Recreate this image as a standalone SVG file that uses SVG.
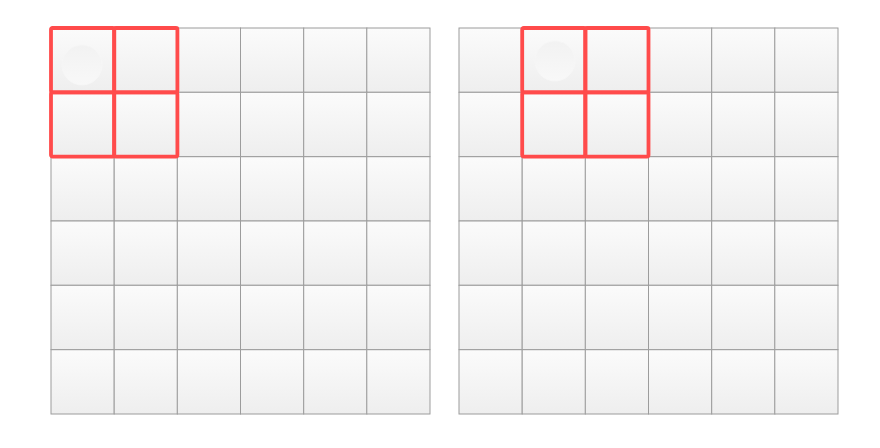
<svg xmlns="http://www.w3.org/2000/svg" xmlns:xlink="http://www.w3.org/1999/xlink" width="880" height="448" viewBox="0 0 880 448">
<defs>
<linearGradient id="cg" x1="0" y1="0" x2="0" y2="1">
<stop offset="0" stop-color="#fbfbfb"/>
<stop offset="1" stop-color="#eeeeee"/>
</linearGradient>
<linearGradient id="dg" x1="0" y1="0" x2="0" y2="1">
<stop offset="0" stop-color="#f2f2f2"/>
<stop offset="1" stop-color="#f8f8f8"/>
</linearGradient>
<rect id="cell" width="63.2" height="64.3" fill="url(#cg)" stroke="#9c9c9c" stroke-width="1"/>
<rect id="hl" width="63.2" height="64.3" rx="1.5" fill="none" stroke="#ff4b4b" stroke-width="3.8"/>
</defs>
<style>
.disc{fill:url(#dg);stroke:#f6f6f6;stroke-width:0.8}
</style>
<rect width="880" height="448" fill="#ffffff"/>
<g id="gridLeft">
<use href="#cell" x="51" y="28"/><use href="#cell" x="114.2" y="28"/><use href="#cell" x="177.3" y="28"/><use href="#cell" x="240.5" y="28"/><use href="#cell" x="303.7" y="28"/><use href="#cell" x="366.8" y="28"/>
<use href="#cell" x="51" y="92.3"/><use href="#cell" x="114.2" y="92.3"/><use href="#cell" x="177.3" y="92.3"/><use href="#cell" x="240.5" y="92.3"/><use href="#cell" x="303.7" y="92.3"/><use href="#cell" x="366.8" y="92.3"/>
<use href="#cell" x="51" y="156.7"/><use href="#cell" x="114.2" y="156.7"/><use href="#cell" x="177.3" y="156.7"/><use href="#cell" x="240.5" y="156.7"/><use href="#cell" x="303.7" y="156.7"/><use href="#cell" x="366.8" y="156.7"/>
<use href="#cell" x="51" y="221"/><use href="#cell" x="114.2" y="221"/><use href="#cell" x="177.3" y="221"/><use href="#cell" x="240.5" y="221"/><use href="#cell" x="303.7" y="221"/><use href="#cell" x="366.8" y="221"/>
<use href="#cell" x="51" y="285.3"/><use href="#cell" x="114.2" y="285.3"/><use href="#cell" x="177.3" y="285.3"/><use href="#cell" x="240.5" y="285.3"/><use href="#cell" x="303.7" y="285.3"/><use href="#cell" x="366.8" y="285.3"/>
<use href="#cell" x="51" y="349.7"/><use href="#cell" x="114.2" y="349.7"/><use href="#cell" x="177.3" y="349.7"/><use href="#cell" x="240.5" y="349.7"/><use href="#cell" x="303.7" y="349.7"/><use href="#cell" x="366.8" y="349.7"/>
<circle class="disc" cx="82" cy="65" r="20"/>
</g>
<g id="gridRight">
<use href="#cell" x="459" y="28"/><use href="#cell" x="522.2" y="28"/><use href="#cell" x="585.3" y="28"/><use href="#cell" x="648.5" y="28"/><use href="#cell" x="711.7" y="28"/><use href="#cell" x="774.8" y="28"/>
<use href="#cell" x="459" y="92.3"/><use href="#cell" x="522.2" y="92.3"/><use href="#cell" x="585.3" y="92.3"/><use href="#cell" x="648.5" y="92.3"/><use href="#cell" x="711.7" y="92.3"/><use href="#cell" x="774.8" y="92.3"/>
<use href="#cell" x="459" y="156.7"/><use href="#cell" x="522.2" y="156.7"/><use href="#cell" x="585.3" y="156.7"/><use href="#cell" x="648.5" y="156.7"/><use href="#cell" x="711.7" y="156.7"/><use href="#cell" x="774.8" y="156.7"/>
<use href="#cell" x="459" y="221"/><use href="#cell" x="522.2" y="221"/><use href="#cell" x="585.3" y="221"/><use href="#cell" x="648.5" y="221"/><use href="#cell" x="711.7" y="221"/><use href="#cell" x="774.8" y="221"/>
<use href="#cell" x="459" y="285.3"/><use href="#cell" x="522.2" y="285.3"/><use href="#cell" x="585.3" y="285.3"/><use href="#cell" x="648.5" y="285.3"/><use href="#cell" x="711.7" y="285.3"/><use href="#cell" x="774.8" y="285.3"/>
<use href="#cell" x="459" y="349.7"/><use href="#cell" x="522.2" y="349.7"/><use href="#cell" x="585.3" y="349.7"/><use href="#cell" x="648.5" y="349.7"/><use href="#cell" x="711.7" y="349.7"/><use href="#cell" x="774.8" y="349.7"/>
<circle class="disc" cx="555" cy="61" r="20"/>
</g>
<g id="highlightLeft">
<use href="#hl" x="51" y="28"/><use href="#hl" x="114.2" y="28"/>
<use href="#hl" x="51" y="92.3"/><use href="#hl" x="114.2" y="92.3"/>
</g>
<g id="highlightRight">
<use href="#hl" x="522.2" y="28"/><use href="#hl" x="585.3" y="28"/>
<use href="#hl" x="522.2" y="92.3"/><use href="#hl" x="585.3" y="92.3"/>
</g>
</svg>
